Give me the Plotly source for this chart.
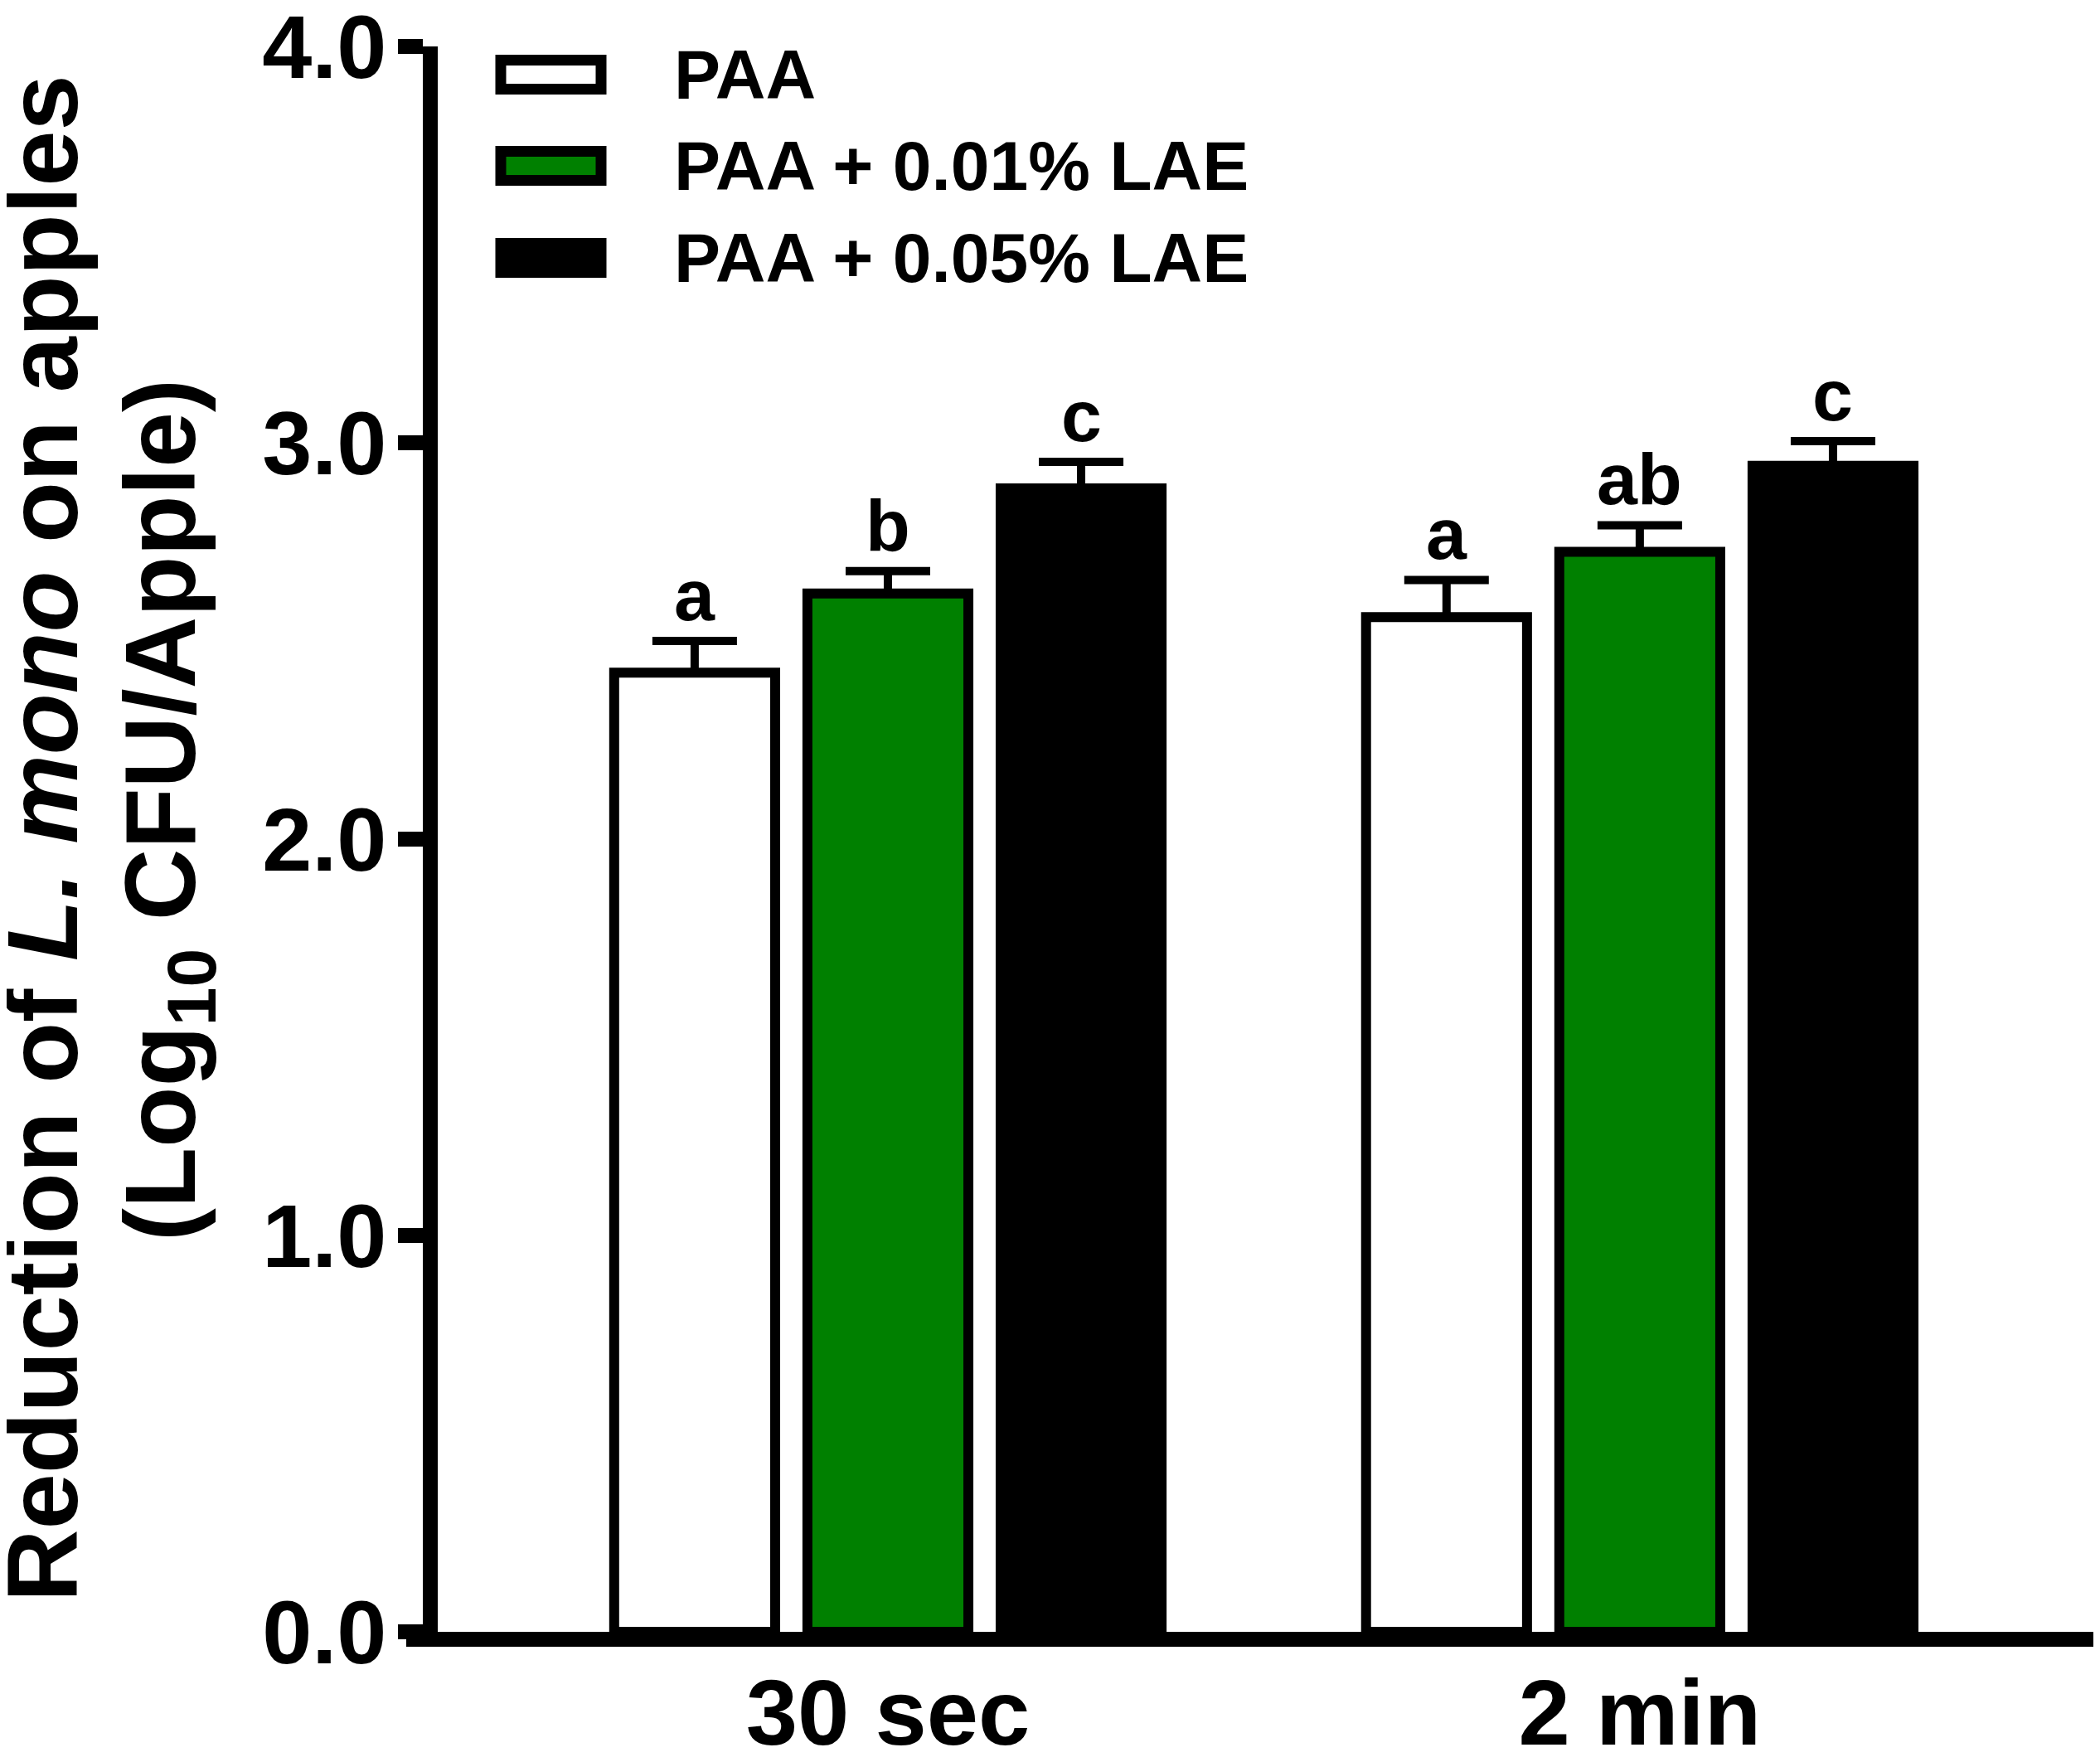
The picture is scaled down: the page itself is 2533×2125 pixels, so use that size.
import plotly.graph_objects as go

# Data
times = ["30 sec", "2 min"]
treatments = ["PAA", "PAA + 0.01% LAE", "PAA + 0.05% LAE"]
colors = ["white", "#008000", "black"]

# mean log reduction per treatment (one value per time point)
means = {
    "PAA": [2.42, 2.56],
    "PAA + 0.01% LAE": [2.62, 2.725],
    "PAA + 0.05% LAE": [2.885, 2.942],
}
# SEM (upper error bar only)
errors = {
    "PAA": [0.08, 0.094],
    "PAA + 0.01% LAE": [0.056, 0.067],
    "PAA + 0.05% LAE": [0.067, 0.062],
}
letters = {
    "PAA": ["a", "a"],
    "PAA + 0.01% LAE": ["b", "ab"],
    "PAA + 0.05% LAE": ["c", "c"],
}

FONT = "Liberation Sans"
W, H = 2533, 2125
PLOT_L, PLOT_R, PLOT_T, PLOT_B = 482, 2524, 48, 1960
BARGAP = 0.229


def px_x(p):
    return (p - PLOT_L) / (PLOT_R - PLOT_L)


def px_y(p):
    return (PLOT_B - p) / (PLOT_B - PLOT_T)


fig = go.Figure()

for name, col in zip(treatments, colors):
    fig.add_trace(go.Bar(
        name=name,
        x=times,
        y=means[name],
        marker=dict(color=col, line=dict(color="black", width=12)),
        error_y=dict(type="data", array=errors[name], arrayminus=[0] * len(times),
                     symmetric=False, color="black", thickness=10, width=51),
        showlegend=False,
    ))

# significance letters above error bars
slot = (1 - BARGAP) / len(treatments)
annotations = []
for j, name in enumerate(treatments):
    for i in range(len(times)):
        annotations.append(dict(
            x=i + (j - 1) * slot, y=means[name][i] + errors[name][i],
            xref="x", yref="y", text=letters[name][i], showarrow=False,
            xanchor="center", yanchor="bottom", yshift=4,
            font=dict(family=FONT, size=88, color="black", weight="bold"),
        ))

# y-axis title (two lines)
annotations.append(dict(
    x=px_x(43), y=px_y(1003), xref="paper", yref="paper",
    text="Reduction of <i>L. mono</i> on apples", textangle=-90,
    showarrow=False, xanchor="center", yanchor="middle",
    font=dict(family=FONT, size=121, color="black", weight="bold"),
))
annotations.append(dict(
    x=px_x(194), y=px_y(969), xref="paper", yref="paper",
    text="(Log<sub>10</sub> CFU/Apple)", textangle=-90,
    showarrow=False, xanchor="center", yanchor="middle",
    font=dict(family=FONT, size=120, color="black", weight="bold"),
))

# legend drawn by hand so the keys can be large
shapes = []
rows = [82, 192, 303]
for name, col, yc in zip(treatments, colors, rows):
    shapes.append(dict(
        type="rect", xref="paper", yref="paper",
        x0=px_x(596), x1=px_x(717), y0=px_y(yc + 17.5), y1=px_y(yc - 17.5),
        fillcolor=col, line=dict(color="black", width=13),
    ))
    annotations.append(dict(
        x=px_x(803), y=px_y(yc), xref="paper", yref="paper", text=name,
        showarrow=False, xanchor="left", yanchor="middle",
        font=dict(family=FONT, size=84, color="black", weight="bold"),
    ))

fig.update_layout(
    width=W, height=H,
    margin=dict(l=PLOT_L, r=W - PLOT_R, t=PLOT_T, b=H - PLOT_B, pad=0),
    barmode="group", bargap=BARGAP, bargroupgap=0.167,
    plot_bgcolor="white", paper_bgcolor="white",
    font=dict(family=FONT, color="black"),
    annotations=annotations, shapes=shapes,
)
fig.update_xaxes(
    type="category", categoryorder="array", categoryarray=times,
    range=[-0.6406, 1.611], automargin=False,
    showline=True, linecolor="black", linewidth=18,
    ticks="", showgrid=False, zeroline=False, ticklabelstandoff=-16,
    tickfont=dict(family=FONT, size=112, color="black", weight="bold"),
)
fig.update_yaxes(
    range=[0, 4], tickvals=[0, 1, 2, 3, 4], tickformat=".1f",
    anchor="free", position=px_x(511), automargin=False,
    showline=True, linecolor="black", linewidth=18,
    ticks="outside", ticklen=30, tickwidth=18, tickcolor="black",
    showgrid=False, zeroline=False,
    ticklabeloverflow="allow", ticklabelstandoff=-8,
    tickfont=dict(family=FONT, size=108, color="black", weight="bold"),
)

fig.write_html("out.html")
